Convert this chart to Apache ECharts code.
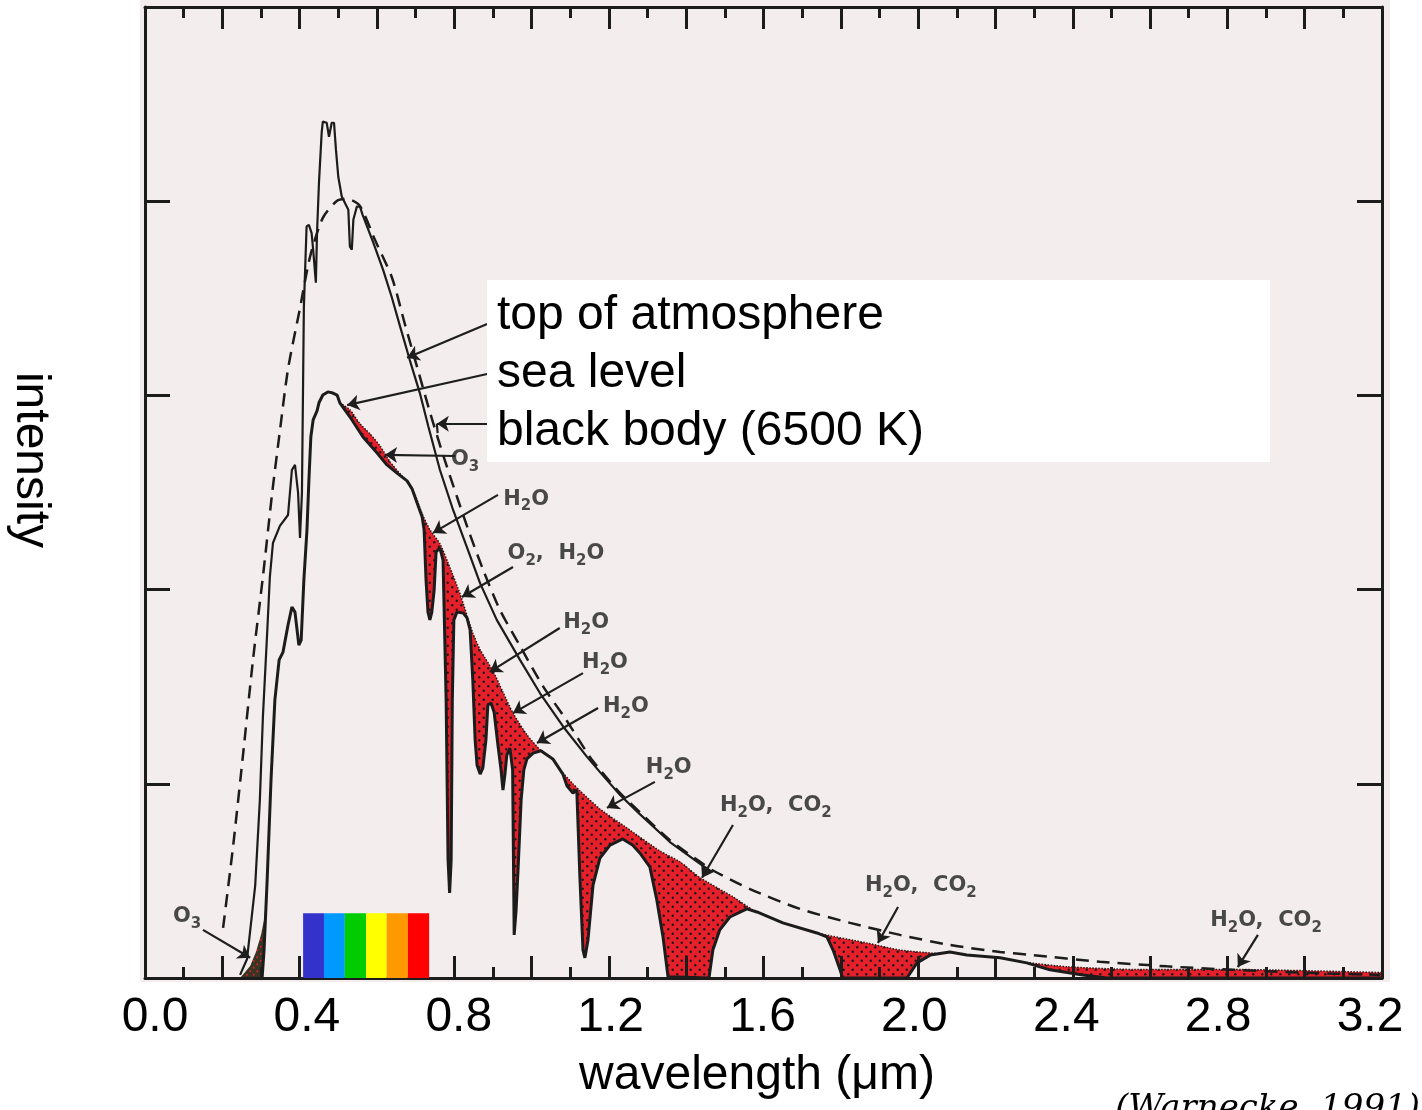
<!DOCTYPE html>
<html><head><meta charset="utf-8">
<script src="https://cdn.jsdelivr.net/npm/echarts@6/dist/echarts.min.js"></script>
<style>html,body{margin:0;padding:0;background:#fff}#c{width:1422px;height:1110px}</style>
</head><body><div id="c"></div>
<script>
// wavelength (µm), spectral irradiance (W m-2 µm-1)
const blackBody = [[0.202,129],[0.228,340],[0.253,569],[0.279,816],[0.305,1033],[0.329,1249],[0.349,1409],[0.370,1568],[0.401,1725],[0.427,1857],[0.460,1957],[0.497,2001],[0.523,2006],[0.556,1988],[0.595,1900],[0.639,1803],[0.673,1681],[0.706,1566],[0.737,1457],[0.771,1347],[0.807,1239],[0.841,1141],[0.877,1045],[0.918,948],[0.970,855],[1.029,752],[1.086,670],[1.151,569],[1.177,536],[1.229,476],[1.280,427],[1.358,355],[1.436,299],[1.467,278],[1.565,229],[1.694,178],[1.824,142],[1.953,111],[2.082,85],[2.212,67],[2.297,59],[2.470,42],[2.644,30],[2.814,21],[2.988,14],[3.195,8]];

const topOfAtmosphere = [[0.246,8],[0.264,49],[0.285,237],[0.297,456],[0.305,672],[0.316,888],[0.323,1033],[0.331,1120],[0.349,1164],[0.370,1192],[0.380,1308],[0.388,1321],[0.396,1249],[0.401,1133],[0.406,1249],[0.409,1537],[0.411,1728],[0.418,1935],[0.424,1939],[0.431,1918],[0.435,1875],[0.442,1790],[0.445,1918],[0.450,2047],[0.457,2176],[0.460,2205],[0.470,2202],[0.476,2166],[0.483,2202],[0.489,2202],[0.494,2132],[0.500,2063],[0.509,2012],[0.517,1996],[0.526,1978],[0.530,1883],[0.535,1875],[0.539,1952],[0.548,1986],[0.556,1986],[0.563,1965],[0.591,1892],[0.616,1823],[0.638,1754],[0.660,1677],[0.685,1591],[0.711,1506],[0.733,1420],[0.763,1308],[0.797,1205],[0.832,1111],[0.867,1016],[0.910,922],[0.970,819],[1.022,733],[1.082,647],[1.143,570],[1.177,530],[1.229,471],[1.280,422],[1.358,350],[1.436,294],[1.467,273]];

const seaLevel = [[0.303,0],[0.308,72],[0.316,252],[0.326,510],[0.336,716],[0.347,819],[0.357,839],[0.370,909],[0.380,955],[0.388,942],[0.398,857],[0.404,870],[0.411,1025],[0.419,1154],[0.424,1282],[0.429,1393],[0.435,1437],[0.445,1460],[0.450,1481],[0.460,1501],[0.473,1509],[0.486,1506],[0.497,1501],[0.504,1481],[0.530,1445],[0.564,1393],[0.600,1352],[0.626,1321],[0.652,1300],[0.678,1280],[0.691,1259],[0.704,1223],[0.717,1187],[0.722,1154],[0.727,1025],[0.732,942],[0.737,922],[0.742,942],[0.748,999],[0.753,1097],[0.763,1107],[0.771,1076],[0.779,716],[0.784,304],[0.788,219],[0.792,304],[0.795,716],[0.799,922],[0.807,942],[0.823,940],[0.833,927],[0.841,896],[0.848,767],[0.854,613],[0.859,548],[0.867,525],[0.874,541],[0.882,613],[0.887,703],[0.895,708],[0.903,685],[0.913,600],[0.921,536],[0.926,484],[0.931,523],[0.936,574],[0.944,592],[0.951,536],[0.955,111],[0.960,175],[0.965,278],[0.973,458],[0.980,536],[0.988,564],[1.004,579],[1.024,585],[1.055,564],[1.081,525],[1.092,494],[1.107,476],[1.117,484],[1.125,260],[1.133,72],[1.138,52],[1.146,98],[1.159,239],[1.177,309],[1.203,342],[1.236,358],[1.262,342],[1.280,322],[1.306,286],[1.324,201],[1.340,106],[1.353,3],[1.358,0],[1.459,0],[1.469,72],[1.487,124],[1.513,157],[1.557,178],[1.583,170],[1.650,142],[1.738,116],[1.764,106],[1.780,72],[1.798,21],[1.805,0],[1.971,0],[1.997,39],[2.031,59],[2.082,67],[2.126,59],[2.212,52],[2.281,39],[2.341,21],[2.426,8],[2.488,0],[3.200,0]];

// sea level without molecular absorption (upper edge of the shaded bands)
const seaLevelNoAbsorption = [[0.504,1481],[0.530,1463],[0.556,1427],[0.582,1401],[0.608,1370],[0.634,1329],[0.660,1298],[0.691,1262],[0.717,1195],[0.737,1154],[0.763,1118],[0.789,1056],[0.815,989],[0.848,888],[0.867,845],[0.900,791],[0.926,736],[0.952,682],[0.988,626],[1.024,585],[1.073,536],[1.107,500],[1.125,482],[1.177,435],[1.247,386],[1.332,327],[1.384,299],[1.436,258],[1.521,209],[1.573,175],[1.650,142],[1.738,116],[1.868,90],[1.953,72],[2.038,64],[2.126,59],[2.212,52],[2.281,40],[2.385,29],[2.556,22],[2.814,22],[3.200,14]];

// sea level without UV ozone absorption
const seaLevelNoOzoneUV = [[0.246,0],[0.272,31],[0.287,67],[0.300,111],[0.309,155],[0.316,252]];

const visibleBandEdges = [0.409,0.463,0.517,0.572,0.625,0.680,0.735];
const visibleBandColors = ['#3333cc','#0099ff','#00cc00','#ffff00','#ff9900','#ff0000'];
const visibleBandHeight = 167;

const legendEntries = ['top of atmosphere','sea level','black body (6500 K)'];

const absorberLabels = [[0.109,157,'O₃'],[0.828,1334,'O₃'],[0.986,1233,'H₂O'],[1.063,1092,'O₂,  H₂O'],[1.141,914,'H₂O'],[1.190,811,'H₂O'],[1.244,698,'H₂O'],[1.355,541,'H₂O'],[1.632,443,'H₂O,  CO₂'],[2.007,237,'H₂O,  CO₂'],[2.900,147,'H₂O,  CO₂']];

const absorberArrows = [[0.150,124,0.272,52],[0.802,1344,0.621,1347],[0.913,1244,0.745,1146],[0.952,1058,0.820,981],[1.073,901,0.892,788],[1.133,785,0.952,682],[1.172,695,1.014,605],[1.319,505,1.195,438],[1.521,394,1.441,258],[1.948,183,1.896,90],[2.879,111,2.827,28]];

const legendArrows = [[0.885,1684,0.678,1597],[0.885,1555,0.523,1475],[0.885,1427,0.755,1427]];
const legendHooks = [[0.755,1427,0.757,1403]];

const PAPER = '#f3eded';
const INK = '#1c1c1c';

function makePattern(bg, dot, size, r) {
  const c = document.createElement('canvas');
  c.width = size; c.height = size;
  const g = c.getContext('2d');
  g.fillStyle = bg; g.fillRect(0, 0, size, size);
  g.fillStyle = dot;
  [[size * 0.25, size * 0.25], [size * 0.75, size * 0.75]].forEach(function (p) {
    g.beginPath(); g.arc(p[0], p[1], r, 0, Math.PI * 2); g.fill();
  });
  return c;
}
const redPattern = { image: makePattern('#e6202a', '#1a1a1a', 9, 1.2), repeat: 'repeat' };
const uvPattern = { image: makePattern('#3a3422', '#e5222a', 7, 0.9), repeat: 'repeat' };

// turn unicode subscript digits into rich-text tokens
function toRich(t) {
  const sub = '₀₁₂₃₄₅₆₇₈₉';
  let out = '', buf = '';
  for (const ch of t) {
    const k = sub.indexOf(ch);
    if (k >= 0) {
      if (buf) { out += '{n|' + buf + '}'; buf = ''; }
      out += '{s|' + k + '}';
    } else buf += ch;
  }
  if (buf) out += '{n|' + buf + '}';
  return out;
}

const chart = echarts.init(document.getElementById('c'), null, { renderer: 'canvas' });

const frameAxis = {
  type: 'value', min: 0, max: 3.2, interval: 0.2, gridIndex: 0, z: 6,
  axisLine: { show: true, onZero: false, lineStyle: { color: INK, width: 3 } },
  axisTick: { show: true, inside: true, length: 22, lineStyle: { color: INK, width: 3 } },
  minorTick: { show: true, splitNumber: 2, length: 11, lineStyle: { color: INK, width: 3 } },
  axisLabel: { show: false }, splitLine: { show: false }, minorSplitLine: { show: false }
};
const frameYAxis = {
  type: 'value', min: 0, max: 2500, interval: 500, gridIndex: 0, z: 6,
  axisLine: { show: true, onZero: false, lineStyle: { color: INK, width: 3 } },
  axisTick: { show: true, inside: true, length: 25, lineStyle: { color: INK, width: 3 } },
  axisLabel: { show: false }, splitLine: { show: false }
};

const option = {
  animation: false,
  backgroundColor: '#ffffff',
  grid: [
    { left: 145, right: 40, top: 7, bottom: 132, show: true, backgroundColor: PAPER, borderWidth: 0 },
    { left: 155, right: 52, top: 7, bottom: 132, show: false }
  ],
  xAxis: [
    Object.assign({}, frameAxis, { position: 'bottom' }),
    Object.assign({}, frameAxis, { position: 'top' }),
    {
      type: 'value', gridIndex: 1, min: 0, max: 3.2, interval: 0.4, position: 'bottom',
      axisLine: { show: false, onZero: false }, axisTick: { show: false }, splitLine: { show: false },
      axisLabel: { show: true, showMinLabel: true, showMaxLabel: true, margin: 16, fontSize: 48, fontFamily: 'Liberation Sans', color: '#000',
        formatter: function (v) { return v.toFixed(1); } },
      name: 'wavelength (μm)', nameLocation: 'middle', nameGap: 74,
      nameTextStyle: { fontSize: 48, fontFamily: 'Liberation Sans', color: '#000', padding: [0, 11, 0, 0] }
    }
  ],
  yAxis: [
    Object.assign({}, frameYAxis, { position: 'left' }),
    Object.assign({}, frameYAxis, { position: 'right' }),
    { type: 'value', gridIndex: 1, min: 0, max: 2500, show: false }
  ],
  graphic: [
    { type: 'rect', z: -1, silent: true, shape: { x: 140, y: 0, width: 1250, height: 982 }, style: { fill: PAPER } },
    { type: 'rect', z: 100, silent: true, shape: { x: 487, y: 280, width: 783, height: 182 }, style: { fill: '#ffffff' } }
  ].concat(legendEntries.map(function (t, i) {
    return { type: 'text', z: 101, silent: true, x: 497, y: 316 + i * 58,
      style: { text: t, font: '48px "Liberation Sans"', fill: '#000', align: 'left', verticalAlign: 'middle', textAlign: 'left', textVerticalAlign: 'middle' } };
  })).concat([
    { type: 'text', z: 101, silent: true, x: 30, y: 460, rotation: -Math.PI / 2,
      style: { text: 'intensity', font: '48px "Liberation Sans"', fill: '#000', align: 'center', verticalAlign: 'middle', textAlign: 'center', textVerticalAlign: 'middle' } },
    { type: 'text', z: 101, silent: true, x: 1420, y: 1109,
      style: { text: '(Warnecke, 1991)', font: 'italic 34px "DejaVu Serif"', fill: '#000', align: 'right', verticalAlign: 'middle', textAlign: 'right', textVerticalAlign: 'middle' } }
  ]),
  series: [
    { name: 'UV ozone absorption', type: 'line', data: seaLevelNoOzoneUV, showSymbol: false, z: 2, silent: true,
      lineStyle: { width: 0 }, areaStyle: { color: uvPattern, opacity: 1 } },
    { name: 'absorption', type: 'line', data: seaLevelNoAbsorption, showSymbol: false, z: 3, silent: true, smooth: 0.2,
      lineStyle: { color: '#2a1414', width: 1.5, type: 'dotted' }, areaStyle: { color: redPattern, opacity: 1 } },
    { name: 'sea level', type: 'line', data: seaLevel, showSymbol: false, z: 4, silent: true,
      lineStyle: { color: INK, width: 3 }, areaStyle: { color: PAPER, opacity: 1 } },
    { name: 'top of atmosphere', type: 'line', data: topOfAtmosphere, showSymbol: false, z: 7, silent: true,
      lineStyle: { color: INK, width: 2.2 } },
    { name: 'black body (6500 K)', type: 'line', data: blackBody, showSymbol: false, z: 7, silent: true, smooth: 0.25,
      lineStyle: { color: INK, width: 2.5, type: [13, 8] } },
    { type: 'lines', coordinateSystem: 'cartesian2d', z: 9, silent: true,
      symbol: ['none', 'arrow'], symbolSize: 12,
      lineStyle: { color: '#1e1e1e', width: 2.2, opacity: 1 },
      data: absorberArrows.concat(legendArrows).map(function (a) { return { coords: [[a[0], a[1]], [a[2], a[3]]] }; }) },
    { type: 'lines', coordinateSystem: 'cartesian2d', z: 9, silent: true, symbol: ['none', 'none'],
      lineStyle: { color: '#1e1e1e', width: 2.2, opacity: 1 },
      data: legendHooks.map(function (a) { return { coords: [[a[0], a[1]], [a[2], a[3]]] }; }) },
    { type: 'scatter', z: 9, silent: true, symbolSize: 1, itemStyle: { color: 'rgba(0,0,0,0)' },
      label: { show: true, position: 'inside', formatter: function (p) { return toRich(p.name); },
        rich: {
          n: { fontSize: 21, fontWeight: 'bold', fontFamily: 'DejaVu Sans', color: '#1e1e1e', lineHeight: 30, verticalAlign: 'middle' },
          s: { fontSize: 15, fontWeight: 'bold', fontFamily: 'DejaVu Sans', color: '#1e1e1e', lineHeight: 12, verticalAlign: 'bottom' }
        } },
      data: absorberLabels.map(function (d) { return { value: [d[0], d[1]], name: d[2] }; }) },
    { type: 'custom', z: 10, silent: true,
      encode: { x: [0, 1] },
      data: visibleBandColors.map(function (c, i) { return [visibleBandEdges[i], visibleBandEdges[i + 1], i]; }),
      renderItem: function (params, api) {
        const p0 = api.coord([api.value(0), visibleBandHeight]);
        const p1 = api.coord([api.value(1), 0]);
        return { type: 'rect', shape: { x: p0[0], y: p0[1], width: p1[0] - p0[0], height: p1[1] - p0[1] },
          style: { fill: visibleBandColors[api.value(2)] } };
      } }
  ]
};
chart.setOption(option);
</script>
</body></html>
